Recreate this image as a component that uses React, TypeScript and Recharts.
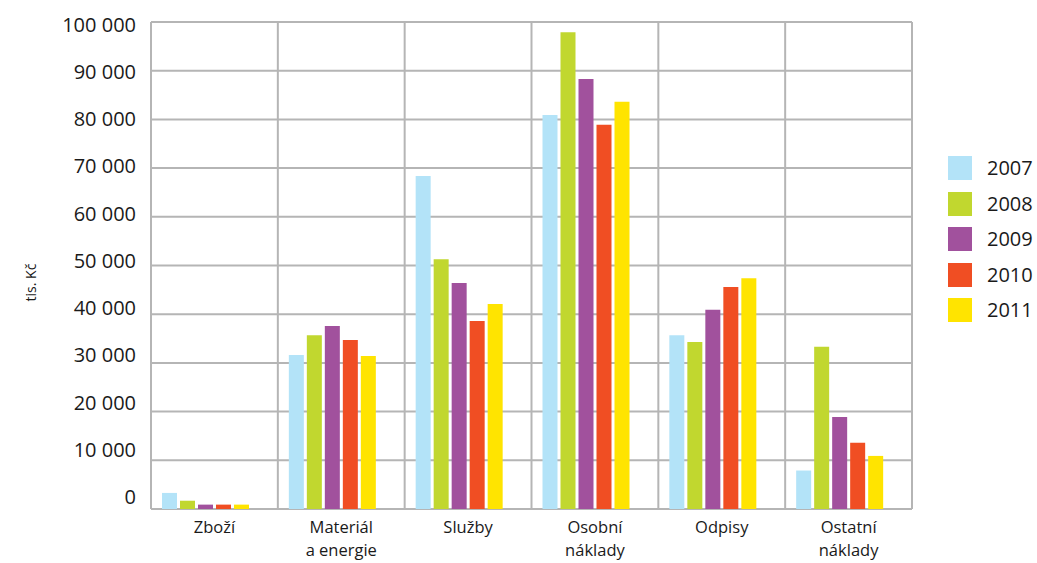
import React from 'react';
import { BarChart, Bar, XAxis, YAxis, CartesianGrid } from 'recharts';

// Cost categories (line breaks split the axis labels)
const categories = [
  'Zboží',
  'Materiál\na energie',
  'Služby',
  'Osobní\nnáklady',
  'Odpisy',
  'Ostatní\nnáklady',
];

const years = ['2007', '2008', '2009', '2010', '2011'];
const colors = ['#b3e3f8', '#c1d72f', '#a1519d', '#f04e23', '#ffe400'];

// Values in thousands of CZK
const v2007 = [3300, 31600, 68400, 80900, 35700, 7900];
const v2008 = [1700, 35700, 51300, 97900, 34300, 33300];
const v2009 = [900, 37600, 46400, 88300, 40900, 18900];
const v2010 = [900, 34700, 38600, 78900, 45600, 13600];
const v2011 = [900, 31400, 42100, 83600, 47400, 10900];

const yTicks = [0, 10000, 20000, 30000, 40000, 50000, 60000, 70000, 80000, 90000, 100000];

const series = [v2007, v2008, v2009, v2010, v2011];

const data = categories.map((name, i) => {
  const row: Record<string, string | number> = { name };
  years.forEach((y, k) => {
    row[y] = series[k][i];
  });
  return row;
});

const FONT = '"Open Sans", "Noto Sans", sans-serif';

const fmt = (v: number) => (v === 0 ? '0' : `${v / 1000} 000`);

const CategoryTick = (props: any) => {
  const { x, y, payload } = props;
  const lines = String(payload.value).split('\n');
  return (
    <g transform={`translate(${x},${y})`}>
      {lines.map((ln, i) => (
        <text
          key={i}
          x={0}
          y={16 + i * 23}
          textAnchor="middle"
          fontSize={16.5}
          fill="#1a1a1a"
          fontFamily={FONT}
        >
          {ln}
        </text>
      ))}
    </g>
  );
};

const UnitLabel = (props: any) => {
  const vb = props.viewBox || { x: 0, y: 0, width: 0, height: 0 };
  const cx = vb.x + 30;
  const cy = vb.y + vb.height / 2 + 17;
  return (
    <text
      x={cx}
      y={cy}
      transform={`rotate(-90 ${cx} ${cy})`}
      textAnchor="middle"
      dominantBaseline="central"
      fontSize={14}
      fill="#1a1a1a"
      fontFamily={FONT}
    >
      tis. Kč
    </text>
  );
};

export default function App() {
  return (
    <div style={{ position: 'absolute', left: 0, top: 0, width: 1037, height: 563, background: '#fff' }}>
      <BarChart
        width={1037}
        height={563}
        data={data}
        margin={{ top: 22, right: 125, bottom: 0, left: 0 }}
        barGap={3}
        barCategoryGap={11}
        style={{ fontFamily: FONT }}
      >
        <CartesianGrid
          yAxisId="val"
          stroke="#b5b5b5"
          strokeWidth={2}
          verticalCoordinatesGenerator={({ offset }: any) =>
            categories.map((_, i) => offset.left + (i * offset.width) / categories.length).concat(offset.left + offset.width)
          }
        />
        <XAxis
          dataKey="name"
          interval={0}
          tick={<CategoryTick />}
          tickLine={false}
          axisLine={false}
          height={54}
        />
        <YAxis yAxisId="val" domain={[0, 100000]} ticks={yTicks} hide />
        <YAxis
          yAxisId="labels"
          width={151}
          domain={[-2540, 100529]}
          allowDataOverflow
          ticks={yTicks}
          interval={0}
          tickFormatter={fmt}
          axisLine={false}
          tickLine={false}
          tickSize={0}
          tickMargin={15}
          tick={{ fontSize: 20, fill: '#1a1a1a', fontFamily: FONT }}
          label={<UnitLabel />}
        />
        {years.map((y, k) => (
          <Bar key={y} yAxisId="val" dataKey={y} fill={colors[k]} isAnimationActive={false} />
        ))}
        {/* empty slot that keeps the bar group left of the category centre */}
        <Bar yAxisId="labels" dataKey="spacer" fill="none" legendType="none" isAnimationActive={false} />
      </BarChart>
      <div style={{ position: 'absolute', left: 948, top: 156, fontFamily: FONT }}>
        {years.map((y, k) => (
          <div key={y} style={{ display: 'flex', alignItems: 'center', height: 24, marginBottom: 11.5 }}>
            <div style={{ width: 24, height: 24, background: colors[k] }} />
            <span style={{ marginLeft: 15, fontSize: 20, color: '#1a1a1a', lineHeight: '24px' }}>{y}</span>
          </div>
        ))}
      </div>
    </div>
  );
}
